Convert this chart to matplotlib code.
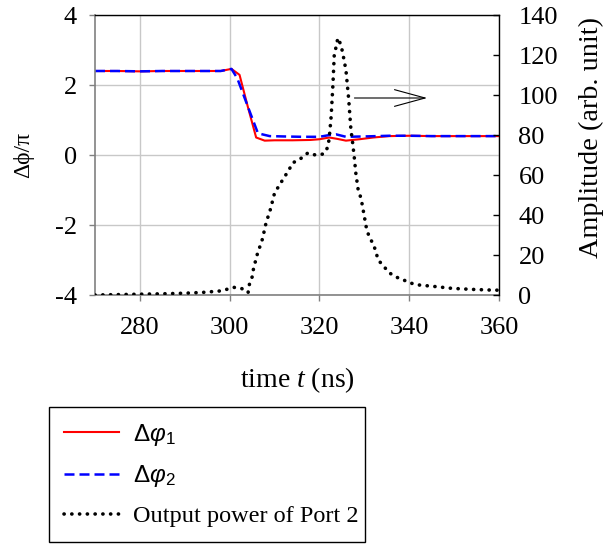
import matplotlib

matplotlib.use("Agg")

import matplotlib.pyplot as plt

plt.rcParams["font.family"] = ["Liberation Serif", "DejaVu Serif"]
plt.rcParams["mathtext.fontset"] = "custom"
plt.rcParams["mathtext.rm"] = "Liberation Serif"
plt.rcParams["mathtext.it"] = "Liberation Serif:italic"
plt.rcParams["mathtext.sf"] = "Liberation Sans:italic"
plt.rcParams["mathtext.bf"] = "Liberation Sans"

# phase difference, units of pi
t_phi1 = [270, 275, 280, 285, 290, 295, 298, 300.4, 302.2, 304, 305.9, 307.8, 310, 314, 318,
          320, 322.2, 324, 325.9, 328.9, 332, 335.6, 340, 345, 350, 355, 360]
phi1 = [2.40, 2.40, 2.39, 2.40, 2.40, 2.40, 2.40, 2.46, 2.29, 1.40, 0.50, 0.41, 0.42, 0.42, 0.43,
        0.45, 0.50, 0.46, 0.41, 0.45, 0.50, 0.54, 0.55, 0.54, 0.54, 0.54, 0.54]

t_phi2 = [270, 275, 280, 285, 290, 295, 298, 300.4, 301.7, 304, 306.3, 308.9, 312, 316, 320,
          322.2, 323.7, 325.9, 330, 335.6, 340, 345, 350, 355, 360]
phi2 = [2.40, 2.40, 2.39, 2.40, 2.40, 2.40, 2.40, 2.46, 2.19, 1.40, 0.62, 0.54, 0.53, 0.52, 0.52,
        0.57, 0.59, 0.52, 0.53, 0.55, 0.55, 0.54, 0.54, 0.54, 0.54]

# output power of port 2 (arb. unit)
t_pow = [270, 275, 280, 285, 290, 294, 297.8, 299.3, 301.0, 302.7, 304.1, 304.4, 305.0, 305.3,
         306.1, 307.3, 308.1, 309.1, 310.0, 311.1, 312.2, 313.2, 314.0, 315.7, 317.4, 319.1,
         320.9, 321.9, 322.2, 322.6, 323.0, 323.3, 323.7, 324.1, 324.8, 325.2, 325.9, 326.5,
         327.0, 327.4, 327.8, 328.1, 328.6, 329.3, 330.5, 331.1, 332.1, 333.1, 335.6, 337.4,
         340.6, 342.2, 345.9, 349.6, 354.1, 357.8, 360]
power = [0.0, 0.2, 0.4, 0.6, 0.9, 1.3, 2.0, 2.8, 3.8, 3.2, 1.2, 5.3, 9.0, 13.0,
         20.0, 28.0, 36.0, 43.0, 51.0, 55.0, 59.0, 62.5, 66.0, 68.0, 71.0, 70.0,
         70.5, 74.0, 79.0, 89.0, 105.0, 120.0, 124.0, 128.5, 125.0, 120.8, 112.5, 98.3,
         83.0, 76.0, 68.0, 61.0, 53.0, 48.0, 33.0, 29.0, 25.0, 17.5, 11.0, 8.7,
         5.8, 5.0, 4.2, 3.3, 2.8, 2.5, 2.4]

x_ticks = [280, 300, 320, 340, 360]
x_tick_labels = ["280", "300", "320", "340", "360"]
phi_ticks = [-4, -2, 0, 2, 4]
phi_tick_labels = ["-4", "-2", "0", "2", "4"]
amp_ticks = [0, 20, 40, 60, 80, 100, 120, 140]
amp_tick_labels = ["0", "20", "40", "60", "80", "100", "120", "140"]

labels = [r"$\mathbf{\Delta}\mathsf{\varphi}_\mathbf{1}$",
          r"$\mathbf{\Delta}\mathsf{\varphi}_\mathbf{2}$",
          "Output power of Port 2"]

fig = plt.figure(figsize=(6.03, 5.46), dpi=100)
fig.patch.set_facecolor("white")
ax1 = fig.add_axes([95 / 603, 1 - 295 / 546, 404 / 603, 280 / 546])
ax2 = ax1.twinx()

line1, = ax1.plot(t_phi1, phi1, color="#ff0000", lw=1.5)
line2, = ax1.plot(t_phi2, phi2, color="#0000ff", lw=1.8, linestyle=(0, (4, 2)))
line3, = ax2.plot(t_pow, power, color="black", lw=2.6, linestyle=(0, (0.05, 2.1)),
                  dash_capstyle="round")

ax1.set_xlim(270, 360)
ax1.set_ylim(-4, 4)
ax2.set_ylim(0, 140)

ax1.set_xticks(x_ticks, x_tick_labels, fontsize=19)
ax1.set_yticks(phi_ticks, phi_tick_labels, fontsize=19)
ax2.set_yticks(amp_ticks, amp_tick_labels, fontsize=19)

ax1.grid(True, color="#c8c8c8", lw=1.0)
ax1.set_axisbelow(True)

for side in ["top", "right"]:
    ax1.spines[side].set_visible(False)
for side in ["left", "bottom"]:
    ax2.spines[side].set_visible(False)
    ax1.spines[side].set_color("#808080")
    ax1.spines[side].set_linewidth(1.2)
for side in ["top", "right"]:
    ax2.spines[side].set_color("black")
    ax2.spines[side].set_linewidth(1.0)

ax1.tick_params(axis="both", direction="out", length=4, color="#808080", width=1)
ax1.tick_params(axis="x", pad=12)
ax1.tick_params(axis="y", pad=9)
ax2.tick_params(axis="y", direction="in", length=4, color="black", width=1, pad=14)

ax1.set_xlabel("time $t$ (ns)", fontsize=20)
ax1.xaxis.set_label_coords(0.5, -0.25)
ax1.set_ylabel("Δϕ/π", fontsize=17, ha="center", va="center")
ax1.yaxis.set_label_coords(-0.176, 0.5)
ax2.set_ylabel("Amplitude (arb. unit)", fontsize=20.3, ha="center", va="center")
ax2.yaxis.set_label_coords(1.228, 0.561)

ax2.annotate("", xy=(344, 98.5), xytext=(327.8, 98.5),
             arrowprops=dict(arrowstyle="->,head_length=2.2,head_width=0.6",
                             color="black", lw=0.8, shrinkA=0, shrinkB=0,
                             mutation_scale=10))

leg = fig.legend([line1, line2, line3], labels, loc="upper left",
                 bbox_to_anchor=(49 / 603, 1 - 407 / 546, 316 / 603, 0.0),
                 mode="expand", borderaxespad=0, fontsize=17.5, handlelength=2.3,
                 handletextpad=0.55, labelspacing=0.65, borderpad=0.6, fancybox=False,
                 framealpha=1, edgecolor="black")
leg.get_frame().set_linewidth(1.0)

fig.savefig("out.png", dpi=100)
